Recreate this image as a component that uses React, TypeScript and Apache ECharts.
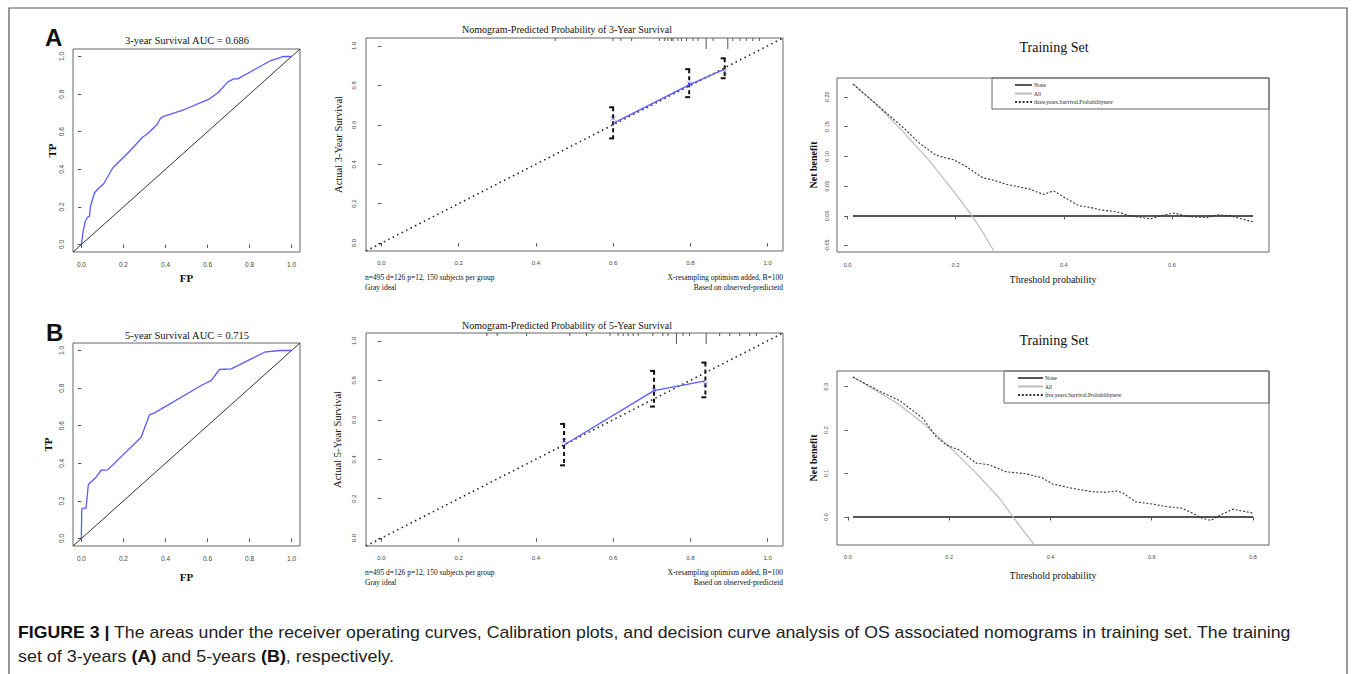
import React, { useEffect, useRef } from "react";
import * as echarts from "echarts";

// ---------- DATA ----------
const ticks01 = [0, 0.2, 0.4, 0.6, 0.8, 1.0];

// ROC, 3-year
const rocA_fp = [0, 0.008, 0.018, 0.03, 0.038, 0.043, 0.062, 0.078, 0.106, 0.149, 0.221, 0.292, 0.316, 0.36, 0.376, 0.392, 0.49, 0.61, 0.652, 0.697, 0.725, 0.744, 0.824, 0.895, 0.959, 1.0];
const rocA_tp = [0, 0.069, 0.122, 0.146, 0.149, 0.202, 0.274, 0.295, 0.323, 0.407, 0.487, 0.572, 0.59, 0.638, 0.671, 0.682, 0.718, 0.775, 0.81, 0.865, 0.881, 0.881, 0.931, 0.975, 1.0, 1.0];
// ROC, 5-year
const rocB_fp = [0, 0, 0.002, 0.011, 0.022, 0.033, 0.07, 0.094, 0.125, 0.284, 0.324, 0.348, 0.57, 0.617, 0.657, 0.713, 0.871, 0.943, 1.0];
const rocB_tp = [0, 0.05, 0.158, 0.161, 0.161, 0.287, 0.326, 0.363, 0.365, 0.539, 0.658, 0.668, 0.814, 0.84, 0.899, 0.902, 0.991, 1.0, 1.0];
const diagonal = [-0.04, 1.04];

// Calibration, 3-year
const calA_pred = [0.6, 0.797, 0.889];
const calA_obs = [0.607, 0.802, 0.882];
const calA_mark = [0.632, 0.81, 0.87];
const calA_lo = [0.531, 0.74, 0.836];
const calA_hi = [0.689, 0.882, 0.937];
const rugA_x = [0.45, 0.6, 0.62, 0.648, 0.72, 0.734, 0.742, 0.751, 0.755, 0.768, 0.777, 0.79, 0.807, 0.82, 0.841, 0.859, 0.897, 0.91, 0.928, 0.945, 0.962, 0.979];
const rugA_long = [0.841, 0.897];
// Calibration, 5-year
const calB_pred = [0.473, 0.706, 0.839];
const calB_obs = [0.472, 0.748, 0.797];
const calB_mark = [0.494, 0.75, 0.78];
const calB_lo = [0.369, 0.667, 0.714];
const calB_hi = [0.579, 0.848, 0.89];
const rugB_x = [0.273, 0.3, 0.376, 0.488, 0.531, 0.592, 0.613, 0.626, 0.639, 0.652, 0.665, 0.703, 0.729, 0.742, 0.764, 0.781, 0.798, 0.841, 0.876, 0.902, 0.928, 0.954, 0.971];
const rugB_long = [0.764, 0.841];
const idealLine = [-0.04, 1.04];

// Decision curves, 3-year
const dcaA_x = [0.01, 0.059, 0.108, 0.133, 0.16, 0.17, 0.197, 0.219, 0.25, 0.27, 0.294, 0.337, 0.362, 0.381, 0.394, 0.428, 0.45, 0.468, 0.499, 0.524, 0.561, 0.579, 0.604, 0.628, 0.665, 0.684, 0.708, 0.75];
const dcaA_y = [0.221, 0.183, 0.144, 0.122, 0.104, 0.1, 0.094, 0.083, 0.064, 0.06, 0.053, 0.045, 0.036, 0.042, 0.035, 0.017, 0.014, 0.01, 0.0066, 0.0, -0.005, 0, 0.005, -0.001, -0.003, 0.002, 0, -0.01];
const dcaA_allx = [0.01, 0.05, 0.1, 0.15, 0.2, 0.23, 0.25, 0.27];
const dcaA_ally = [0.222, 0.19, 0.144, 0.094, 0.037, 0, -0.027, -0.058];
const dcaA_nonex = [0.01, 0.75];
const dcaA_noney = [0, 0];
// Decision curves, 5-year
const dcaB_x = [0.01, 0.063, 0.102, 0.148, 0.174, 0.194, 0.22, 0.253, 0.279, 0.312, 0.351, 0.384, 0.404, 0.443, 0.483, 0.509, 0.529, 0.542, 0.568, 0.601, 0.628, 0.66, 0.68, 0.7, 0.717, 0.733, 0.76, 0.8];
const dcaB_y = [0.322, 0.289, 0.268, 0.227, 0.185, 0.166, 0.154, 0.124, 0.12, 0.104, 0.0995, 0.09, 0.076, 0.066, 0.058, 0.057, 0.06, 0.056, 0.035, 0.03, 0.024, 0.02, 0.009, -0.003, -0.008, 0.003, 0.018, 0.009];
const dcaB_allx = [0.01, 0.1, 0.15, 0.2, 0.25, 0.3, 0.326, 0.368];
const dcaB_ally = [0.322, 0.26, 0.214, 0.162, 0.105, 0.042, 0, -0.064];
const dcaB_nonex = [0.01, 0.8];
const dcaB_noney = [0, 0];

const dcaA_xticks = [0, 0.2, 0.4, 0.6];
const dcaA_yticks = [-0.05, 0, 0.05, 0.1, 0.15, 0.2];
const dcaB_xticks = [0, 0.2, 0.4, 0.6, 0.8];
const dcaB_yticks = [0, 0.1, 0.2, 0.3];

const SERIF = "Liberation Serif, Times New Roman, serif";
const SANS = "Liberation Sans, Arial, sans-serif";

const zip = (a: number[], b: number[]) => a.map((v, i) => [v, b[i]]);

function axis(
  gridIndex: number,
  min: number,
  max: number,
  ticks: number[],
  dec: number,
  isY: boolean,
  margin: number,
  fontSize: number,
  name: string,
  nameGap: number,
  nameStyle: any
) {
  return {
    type: "value",
    gridIndex,
    min,
    max,
    axisLine: { show: false },
    axisTick: { show: true, inside: false, length: 3.5, lineStyle: { color: "#555", width: 1 }, customValues: ticks },
    axisLabel: {
      customValues: ticks,
      formatter: (v: number) => v.toFixed(dec),
      fontSize,
      color: "#444",
      margin,
      fontFamily: SANS,
      rotate: isY ? 90 : 0,
    },
    splitLine: { show: false },
    name,
    nameLocation: "middle",
    nameGap,
    nameMoveOverlap: false,
    nameTextStyle: Object.assign({ fontFamily: SERIF, color: "#111" }, nameStyle),
  };
}

function errorBars(idx: number, pred: number[], lo: number[], hi: number[]) {
  return {
    type: "custom",
    xAxisIndex: idx,
    yAxisIndex: idx,
    data: pred.map((p, i) => [p, lo[i], hi[i]]),
    renderItem: (params: any, api: any) => {
      const t = api.coord([api.value(0), api.value(2)]);
      const b = api.coord([api.value(0), api.value(1)]);
      const st = { stroke: "#111", lineWidth: 2 };
      return {
        type: "group",
        children: [
          { type: "line", shape: { x1: t[0], y1: t[1], x2: b[0], y2: b[1] }, style: { stroke: "#111", lineWidth: 2, lineDash: [4, 3] } },
          { type: "line", shape: { x1: t[0] - 4, y1: t[1], x2: t[0] + 1, y2: t[1] }, style: st },
          { type: "line", shape: { x1: b[0] - 4, y1: b[1], x2: b[0] + 1, y2: b[1] }, style: st },
        ],
      };
    },
  };
}

function rug(idx: number, xs: number[], longs: number[]) {
  return {
    type: "custom",
    xAxisIndex: idx,
    yAxisIndex: idx,
    data: xs.map((x) => [x, longs.indexOf(x) >= 0 ? 1 : 0]),
    renderItem: (params: any, api: any) => {
      const c = api.coord([api.value(0), 0]);
      const top = params.coordSys.y;
      const len = api.value(1) ? 11 : 3;
      return { type: "line", shape: { x1: c[0], y1: top, x2: c[0], y2: top + len }, style: { stroke: "#555", lineWidth: 1 } };
    },
  };
}

export default function App() {
  const ref = useRef<HTMLDivElement>(null);
  useEffect(() => {
    if (!ref.current) return;
    const chart = echarts.init(ref.current, null, { renderer: "svg" });

    const gridBase = { show: true, borderColor: "#666", borderWidth: 1, backgroundColor: "transparent", containLabel: false, outerBoundsMode: "none" };
    const grids = [
      { left: 73, top: 49, width: 227, height: 203 },
      { left: 366, top: 38, width: 417, height: 213 },
      { left: 837, top: 78, width: 432, height: 174 },
      { left: 73, top: 343, width: 227, height: 203 },
      { left: 366, top: 333, width: 417, height: 213 },
      { left: 837, top: 371, width: 432, height: 174 },
    ].map((g) => Object.assign({}, gridBase, g));

    const tpStyle = { fontSize: 11, fontWeight: "bold" };
    const calStyle = { fontSize: 10.5 };
    const nbStyle = { fontSize: 10, fontWeight: "bold" };
    const thStyle = { fontSize: 10 };

    const xAxis = [
      axis(0, -0.04, 1.04, ticks01, 1, false, 8.5, 6.5, "FP", 20.5, tpStyle),
      axis(1, -0.04, 1.04, ticks01, 1, false, 9, 6, "", 0, {}),
      axis(2, -0.0196, 0.7796, dcaA_xticks, 1, false, 10, 5.5, "Threshold probability", 22, thStyle),
      axis(3, -0.04, 1.04, ticks01, 1, false, 8.5, 6.5, "FP", 25.5, tpStyle),
      axis(4, -0.04, 1.04, ticks01, 1, false, 9, 6, "", 0, {}),
      axis(5, -0.0216, 0.8316, dcaB_xticks, 1, false, 9, 5.5, "Threshold probability", 25, thStyle),
    ];
    const yAxis = [
      axis(0, -0.04, 1.04, ticks01, 1, true, 8.5, 6.5, "TP", 15.5, tpStyle),
      axis(1, -0.04, 1.04, ticks01, 1, true, 9, 6, "Actual 3-Year Survival", 22.5, calStyle),
      axis(2, -0.0606, 0.2315, dcaA_yticks, 2, true, 7, 5.5, "Net benefit", 19, nbStyle),
      axis(3, -0.04, 1.04, ticks01, 1, true, 8.5, 6.5, "TP", 19.5, tpStyle),
      axis(4, -0.04, 1.04, ticks01, 1, true, 9, 6, "Actual 5-Year Survival", 23.5, calStyle),
      axis(5, -0.0645, 0.336, dcaB_yticks, 1, true, 8, 5.5, "Net benefit", 19, nbStyle),
    ];

    const line = (idx: number, name: string, data: number[][], color: string, width: number, type: any, z = 2) => ({
      type: "line",
      name,
      xAxisIndex: idx,
      yAxisIndex: idx,
      data,
      symbol: "none",
      smooth: false,
      clip: true,
      z,
      lineStyle: { color, width, type },
      itemStyle: { color },
    });

    const crossSym = "path://M0 0L10 10M10 0L0 10";
    const marks = (idx: number, xs: number[], ys: number[]) => ({
      type: "scatter",
      xAxisIndex: idx,
      yAxisIndex: idx,
      data: zip(xs, ys),
      symbol: crossSym,
      symbolSize: 4,
      itemStyle: { color: "transparent", borderColor: "#4444ff", borderWidth: 1 },
      z: 4,
    });

    const diag = zip(diagonal, diagonal);
    const ideal = zip(idealLine, idealLine);
    const blue = "#5a5aff";

    const series: any[] = [
      // ROC A
      line(0, "diagA", diag, "#333", 1, "solid"),
      line(0, "ROC 3-year", zip(rocA_fp, rocA_tp), blue, 1.3, "solid", 3),
      // Calibration A
      line(1, "idealA", ideal, "#222", 1.6, [1.5, 3.5]),
      line(1, "cal3", zip(calA_pred, calA_obs), blue, 1.3, "solid", 3),
      errorBars(1, calA_pred, calA_lo, calA_hi),
      marks(1, calA_pred, calA_mark),
      rug(1, rugA_x, rugA_long),
      // DCA A
      line(2, "None", zip(dcaA_nonex, dcaA_noney), "#555", 2, "solid"),
      line(2, "All", zip(dcaA_allx, dcaA_ally), "#bbb", 1.2, "solid"),
      line(2, "three.years.Survival.Probabilitynew", zip(dcaA_x, dcaA_y), "#333", 1.1, [2, 1.8], 3),
      // ROC B
      line(3, "diagB", diag, "#333", 1, "solid"),
      line(3, "ROC 5-year", zip(rocB_fp, rocB_tp), blue, 1.3, "solid", 3),
      // Calibration B
      line(4, "idealB", ideal, "#222", 1.6, [1.5, 3.5]),
      line(4, "cal5", zip(calB_pred, calB_obs), blue, 1.3, "solid", 3),
      errorBars(4, calB_pred, calB_lo, calB_hi),
      marks(4, calB_pred, calB_mark),
      rug(4, rugB_x, rugB_long),
      // DCA B
      line(5, "None", zip(dcaB_nonex, dcaB_noney), "#555", 2, "solid"),
      line(5, "All", zip(dcaB_allx, dcaB_ally), "#bbb", 1.2, "solid"),
      line(5, "five.years.Survival.Probabilitynew", zip(dcaB_x, dcaB_y), "#333", 1.1, [2, 1.8], 3),
    ];

    const legendBase = {
      orient: "vertical",
      padding: 0,
      itemHeight: 6,
      itemGap: 2.5,
      selectedMode: false,
      itemStyle: { opacity: 0 },
      textStyle: { fontSize: 5.5, fontFamily: SERIF, color: "#222", padding: [0, 0, 0, -3] },
    };
    const legend = [
      Object.assign({}, legendBase, { left: 1014, top: 82, itemWidth: 17, data: ["None", "All", "three.years.Survival.Probabilitynew"] }),
      Object.assign({}, legendBase, { left: 1017, top: 375, itemWidth: 25, data: ["None", "All", "five.years.Survival.Probabilitynew"] }),
    ];

    const txt = (x: number, y: number, text: string, font: string, align = "center", fill = "#111") => ({
      type: "text",
      x,
      y,
      silent: true,
      style: { text, font, fill, align, verticalAlign: "middle" },
    });

    const capFont = `16px ${SANS}`;
    const capRich = { b: { fontWeight: "bold", fontSize: 16, fontFamily: SANS, fill: "#111" } };
    const graphic: any[] = [
      { type: "rect", shape: { x: 9, y: 8, width: 1338, height: 720 }, style: { fill: "none", stroke: "#555", lineWidth: 1.2 }, silent: true },
      { type: "rect", shape: { x: 992, y: 78, width: 277, height: 31 }, style: { fill: "none", stroke: "#666", lineWidth: 1 }, silent: true },
      { type: "rect", shape: { x: 1004, y: 371, width: 265, height: 32 }, style: { fill: "none", stroke: "#666", lineWidth: 1 }, silent: true },
      txt(45, 37, "A", `bold 24px ${SANS}`, "left"),
      txt(46, 332, "B", `bold 24px ${SANS}`, "left"),
      txt(187, 40, "3-year Survival AUC = 0.686", `10.5px ${SERIF}`),
      txt(187, 335, "5-year Survival AUC = 0.715", `10.5px ${SERIF}`),
      txt(567, 29, "Nomogram-Predicted Probability of 3-Year Survival", `10px ${SERIF}`),
      txt(567, 325, "Nomogram-Predicted Probability of 5-Year Survival", `10px ${SERIF}`),
      txt(365, 277, "n=495 d=126 p=12, 150 subjects per group", `7.5px ${SERIF}`, "left"),
      txt(365, 287.5, "Gray ideal", `7.5px ${SERIF}`, "left"),
      txt(783, 277, "X-resampling optimism added, B=100", `7.5px ${SERIF}`, "right"),
      txt(783, 287.5, "Based on observed-predictetd", `7.5px ${SERIF}`, "right"),
      txt(365, 572, "n=495 d=126 p=12, 150 subjects per group", `7.5px ${SERIF}`, "left"),
      txt(365, 582.5, "Gray ideal", `7.5px ${SERIF}`, "left"),
      txt(783, 572, "X-resampling optimism added, B=100", `7.5px ${SERIF}`, "right"),
      txt(783, 582.5, "Based on observed-predictetd", `7.5px ${SERIF}`, "right"),
      txt(1054, 47, "Training Set", `14px ${SERIF}`),
      txt(1054, 340, "Training Set", `14px ${SERIF}`),
      {
        type: "text",
        x: 18,
        y: 633,
        scaleX: 1.106,
        silent: true,
        style: {
          text: "{b|FIGURE 3 |} The areas under the receiver operating curves, Calibration plots, and decision curve analysis of OS associated nomograms in training set. The training",
          font: capFont,
          fill: "#222",
          verticalAlign: "middle",
          rich: capRich,
        },
      },
      {
        type: "text",
        x: 18,
        y: 657,
        scaleX: 1.12,
        silent: true,
        style: {
          text: "set of 3-years {b|(A)} and 5-years {b|(B)}, respectively.",
          font: capFont,
          fill: "#222",
          verticalAlign: "middle",
          rich: capRich,
        },
      },
    ];

    chart.setOption({
      animation: false,
      backgroundColor: "#fff",
      grid: grids,
      xAxis,
      yAxis,
      legend,
      series,
      graphic,
    });
    return () => chart.dispose();
  }, []);

  return (
    <div
      ref={ref}
      style={{ position: "absolute", left: 0, top: 0, width: 1355, height: 674, background: "#fff" }}
    />
  );
}
